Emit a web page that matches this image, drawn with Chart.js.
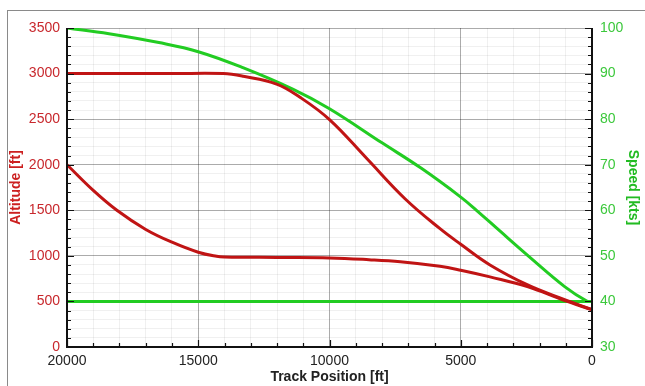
<!DOCTYPE html>
<html>
<head>
<meta charset="utf-8">
<script src="https://cdn.jsdelivr.net/npm/chart.js@4/dist/chart.umd.min.js"></script>
<style>
  html, body { margin: 0; padding: 0; background: #fff; }
  #wrap { position: relative; width: 645px; height: 386px; }
  #frame { position: absolute; left: 7px; top: 10px; right: 0; bottom: 0; border-top: 1px solid #8a8a8a; border-left: 1px solid #8a8a8a; pointer-events: none; }
</style>
</head>
<body>
<div id="wrap">
  <canvas id="chart"></canvas>
  <div id="frame"></div>
</div>
<script>
// Track position [ft] / altitude [ft], upper profile
const altHighX = [20000, 16000, 14050, 13285, 12016, 11124, 10000, 8571, 7124, 5790, 5000, 3886, 2432, 1092, 0];
const altHighY = [3000, 3000, 3000, 2970, 2885, 2740, 2495, 2065, 1627, 1298, 1127, 900, 678, 525, 410];

// lower profile
const altLowX = [20000, 19000, 18100, 17000, 16000, 15000, 14300, 14000, 12000, 10000, 8500, 7300, 5790, 5000, 3886, 2432, 1092, 0];
const altLowY = [2000, 1718, 1500, 1290, 1150, 1040, 995, 988, 982, 977, 958, 935, 885, 842, 769, 660, 514, 410];

// speed [kts]
const speedX = [20000, 18400, 16500, 15000, 13300, 11400, 10000, 8000, 6500, 5000, 4400, 3500, 2430, 1030, 200, 0];
const speedY = [100, 98.75, 96.8, 94.8, 91.3, 86.6, 82.3, 74.8, 69.2, 62.9, 60, 55.4, 50, 43.2, 40.1, 40];

const minSpeedX = [20000, 0];
const minSpeedY = [40, 40];

const red = '#c01414';
const green = '#22cc22';
const font = '"Liberation Sans", Arial, sans-serif';

function pts(xs, ys) {
  return xs.map((x, i) => ({ x: x, y: ys[i] }));
}

// ticks drawn inside the plot like the original
const innerTicks = {
  id: 'innerTicks',
  afterDraw(chart) {
    const ctx = chart.ctx;
    const a = chart.chartArea;
    const sx = chart.scales.x, sy = chart.scales.y, sy2 = chart.scales.y2;
    ctx.save();
    ctx.strokeStyle = '#111';
    ctx.lineWidth = 1.2;
    ctx.beginPath();
    sx.ticks.forEach(t => {
      const px = Math.round(sx.getPixelForValue(t.value)) + 0.5;
      const len = t.value % 5000 === 0 ? 7 : 4;
      ctx.moveTo(px, a.bottom); ctx.lineTo(px, a.bottom - len);
    });
    sy.ticks.forEach(t => {
      const py = Math.round(sy.getPixelForValue(t.value)) + 0.5;
      const len = t.value % 500 === 0 ? 7 : 4;
      ctx.moveTo(a.left, py); ctx.lineTo(a.left + len, py);
    });
    sy2.ticks.forEach(t => {
      const py = Math.round(sy2.getPixelForValue(t.value)) + 0.5;
      const len = t.value % 10 === 0 ? 7 : 4;
      ctx.moveTo(a.right, py); ctx.lineTo(a.right - len, py);
    });
    ctx.stroke();
    ctx.lineWidth = 2;
    ctx.beginPath();
    ctx.moveTo(a.left, a.top); ctx.lineTo(a.left, a.bottom); ctx.lineTo(a.right, a.bottom); ctx.lineTo(a.right, a.top);
    ctx.stroke();
    ctx.restore();
  }
};

new Chart(document.getElementById('chart'), {
  type: 'line',
  data: {
    datasets: [
      { data: pts(altHighX, altHighY), yAxisID: 'y', borderColor: red, borderWidth: 3, pointRadius: 0, tension: 0.4 },
      { data: pts(altLowX, altLowY), yAxisID: 'y', borderColor: red, borderWidth: 3, pointRadius: 0, tension: 0.4 },
      { data: pts(speedX, speedY), yAxisID: 'y2', borderColor: green, borderWidth: 3, pointRadius: 0, tension: 0.4 },
      { data: pts(minSpeedX, minSpeedY), yAxisID: 'y2', borderColor: green, borderWidth: 3, pointRadius: 0 }
    ]
  },
  options: {
    responsive: true,
    maintainAspectRatio: false,
    animation: false,
    layout: { padding: { left: 8, top: 28, right: 0, bottom: 0 } },
    plugins: { legend: { display: false }, tooltip: { enabled: false } },
    scales: {
      x: {
        type: 'linear', reverse: true, min: 0, max: 20000,
        afterFit: s => { s.height = 39; },
        grid: { drawTicks: false, color: c => c.tick.value % 5000 === 0 ? 'rgba(0,0,0,0.33)' : 'rgba(0,0,0,0.06)' },
        border: { display: false },
        ticks: { stepSize: 1000, autoSkip: false, maxRotation: 0, padding: 6, color: '#222', font: { family: font, size: 14 },
          callback: v => v % 5000 === 0 ? String(v) : '' },
        title: { display: true, text: 'Track Position [ft]', color: '#222', padding: 0, font: { family: font, size: 14, weight: 'bold' } }
      },
      y: {
        position: 'left', min: 0, max: 3500,
        afterFit: s => { s.width = 59; },
        grid: { drawTicks: false, color: c => c.tick.value % 500 === 0 ? 'rgba(0,0,0,0.33)' : 'rgba(0,0,0,0.06)' },
        border: { display: false },
        ticks: { stepSize: 100, autoSkip: false, padding: 7, color: '#c8282d', font: { family: font, size: 14 },
          callback: v => v % 500 === 0 ? String(v) : '' },
        title: { display: true, text: 'Altitude [ft]', color: '#cc2020', padding: 0, font: { family: font, size: 14, weight: 'bold' } }
      },
      y2: {
        position: 'right', min: 30, max: 100,
        afterFit: s => { s.width = 53; },
        grid: { display: false, drawTicks: false },
        border: { display: false },
        ticks: { stepSize: 2, autoSkip: false, padding: 8, color: '#3cc83c', font: { family: font, size: 14 },
          callback: v => v % 10 === 0 ? String(v) : '' },
        title: { display: true, text: 'Speed [kts]', color: '#22bb22', padding: 4, font: { family: font, size: 14, weight: 'bold' } }
      }
    }
  },
  plugins: [innerTicks]
});
</script>
</body>
</html>
